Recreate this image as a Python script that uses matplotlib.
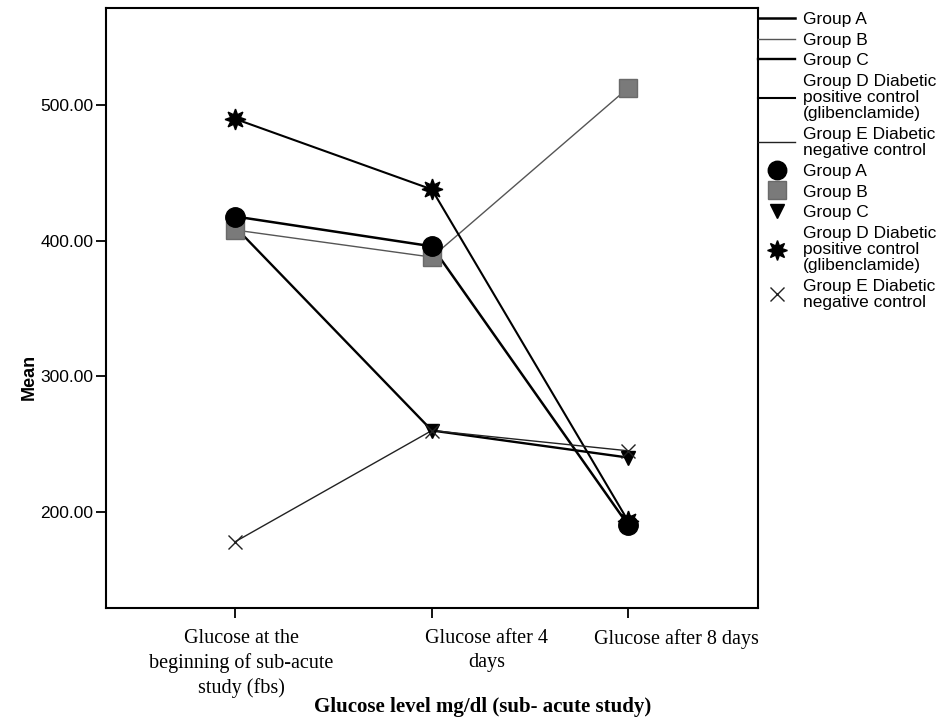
import matplotlib

matplotlib.use("Agg")
import matplotlib.pyplot as plt  # noqa: E402
import matplotlib.transforms as mtransforms  # noqa: E402
from matplotlib.lines import Line2D  # noqa: E402

# Data
categories = [
    "Glucose at the\nbeginning of sub-acute\nstudy (fbs)",
    "Glucose after 4\ndays",
    "Glucose after 8 days",
]
group_names = [
    "Group A",
    "Group B",
    "Group C",
    "Group D Diabetic\npositive control\n(glibenclamide)",
    "Group E Diabetic\nnegative control",
]
group_a = [418, 396, 190]
group_b = [408, 388, 513]
group_c = [410, 260, 240]
group_d = [490, 438, 193]
group_e = [178, 260, 245]
y_ticks = [200, 300, 400, 500]

series = [group_a, group_b, group_c, group_d, group_e]

# line styles / marker styles per group
line_styles = [
    {"color": "black", "lw": 1.8},
    {"color": "#555555", "lw": 1.0},
    {"color": "black", "lw": 1.7},
    {"color": "black", "lw": 1.5},
    {"color": "#222222", "lw": 1.0},
]
marker_styles = [
    {"marker": "o", "ms": 14, "color": "black", "mec": "black", "z": 6},
    {"marker": "s", "ms": 13, "color": "#7a7a7a", "mec": "#6a6a6a", "z": 5},
    {"marker": "v", "ms": 10, "color": "black", "mec": "black", "z": 4},
    {"marker": (8, 1, 0), "ms": 15, "color": "black", "mec": "black", "z": 3},
    {"marker": "x", "ms": 10, "color": "#222222", "mec": "#222222", "z": 4},
]

fig = plt.figure(figsize=(9.45, 7.22), dpi=100)
ax = fig.add_axes([0.112, 0.158, 0.690, 0.831])

x = list(range(len(categories)))
for values, ls in zip(series, line_styles):
    ax.plot(x, values, color=ls["color"], linewidth=ls["lw"], zorder=2)

for values, ms in zip(series, marker_styles):
    ax.plot(
        x,
        values,
        linestyle="none",
        marker=ms["marker"],
        markersize=ms["ms"],
        color=ms["color"],
        markeredgecolor=ms["mec"],
        markeredgewidth=1.0,
        zorder=ms["z"],
    )

ax.set_xlim(-0.66, 2.66)
ax.set_ylim(129, 572)
ax.set_yticks(y_ticks)
ax.set_yticklabels([f"{v:.2f}" for v in y_ticks], family="Liberation Sans", fontsize=12.5)
ax.set_xticks(x)
ax.set_xticklabels(categories, family="Liberation Serif", fontsize=14.5, linespacing=1.35)
ax.tick_params(axis="both", direction="out", length=7, width=1.3, colors="black")
ax.tick_params(axis="y", pad=2)
ax.tick_params(axis="x", pad=8)
for spine in ax.spines.values():
    spine.set_linewidth(1.5)

# the category labels in the original sit a bit right of their ticks
label_shifts = [6, 55, 48]
for lab, dx in zip(ax.get_xticklabels(), label_shifts):
    lab.set_transform(lab.get_transform() + mtransforms.ScaledTranslation(dx / 100, 0, fig.dpi_scale_trans))

ax.set_ylabel("Mean", family="Liberation Sans", fontsize=13, fontweight="bold")
ax.yaxis.set_label_coords(-0.104, 0.385)
ax.set_xlabel(
    "Glucose level mg/dl (sub- acute study)",
    family="Liberation Serif",
    fontsize=15,
    fontweight="bold",
)
ax.xaxis.set_label_coords(0.578, -0.148)

# legend: line entries then marker entries
handles = []
labels = []
for name, ls in zip(group_names, line_styles):
    handles.append(Line2D([], [], color=ls["color"], linewidth=ls["lw"]))
    labels.append(name)
for name, ms in zip(group_names, marker_styles):
    handles.append(
        Line2D(
            [],
            [],
            linestyle="none",
            marker=ms["marker"],
            markersize=ms["ms"] * 0.95,
            color=ms["color"],
            markeredgecolor=ms["mec"],
        )
    )
    labels.append(name)

leg = fig.legend(
    handles,
    labels,
    loc="upper left",
    bbox_to_anchor=(0.802, 0.984),
    frameon=False,
    prop={"family": "Liberation Sans", "size": 12.5},
    handlelength=2.15,
    handletextpad=0.45,
    labelspacing=0.33,
    borderpad=0.0,
    borderaxespad=0.0,
)
for txt in leg.get_texts():
    txt.set_linespacing(1.08)

fig.savefig("out.png", dpi=100)
